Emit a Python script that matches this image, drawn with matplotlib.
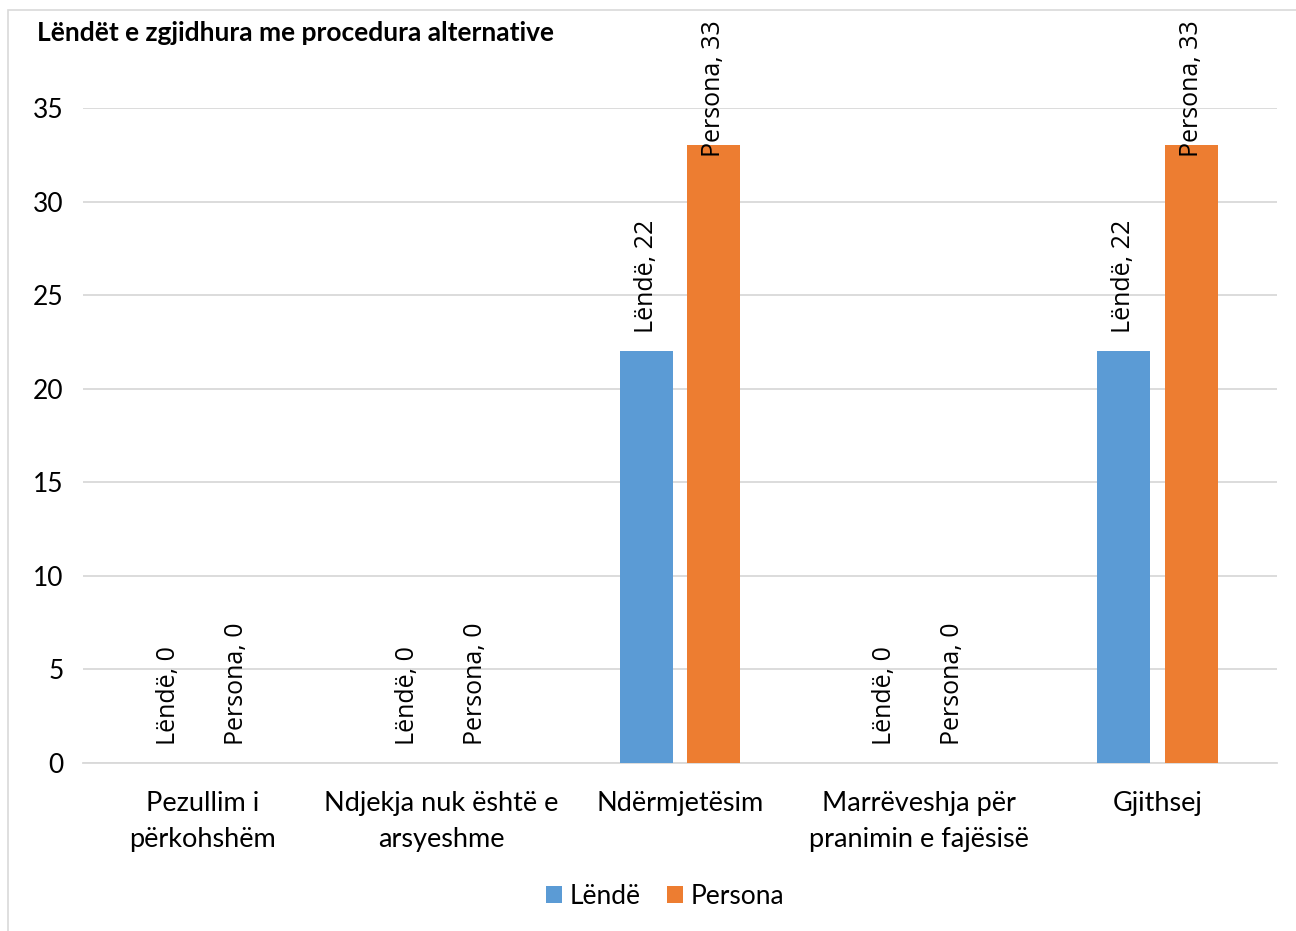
import matplotlib
matplotlib.use("Agg")
import matplotlib.pyplot as plt
import numpy as np
from matplotlib.patches import Rectangle

categories = ["Pezullim i\npërkohshëm", "Ndjekja nuk është e\narsyeshme", "Ndërmjetësim",
              "Marrëveshja për\npranimin e fajësisë", "Gjithsej"]
series_names = ["Lëndë", "Persona"]
lende = [0, 0, 22, 0, 22]
persona = [0, 0, 33, 0, 33]
title = "Lëndët e zgjidhura me procedura alternative"
yticks = [0, 5, 10, 15, 20, 25, 30, 35]

colors = ["#5B9BD5", "#ED7D31"]
W, H = 1296, 931
fig = plt.figure(figsize=(W / 100, H / 100), dpi=100)
fig.patch.set_facecolor("white")
fig.patches.append(Rectangle((8 / W, -0.05), 1.1, 1 - 10 / H + 0.05, transform=fig.transFigure,
                             fill=False, edgecolor="#d9d9d9", linewidth=1.2))

ax = fig.add_axes([83 / W, 1 - 763 / H, (1277 - 83) / W, (763 - 108) / H])
x = np.arange(len(categories))
bw = 0.222
off = 0.142
series = [lende, persona]
for i, (vals, name) in enumerate(zip(series, series_names)):
    pos = x + (-off if i == 0 else off)
    ax.bar(pos, vals, width=bw, color=colors[i], label=name, zorder=3)
    for p, v in zip(pos, vals):
        dy = 18
        if v == 33:
            dy = -12
        ax.annotate(f"{name}, {v}", xy=(p, v), xytext=(0, dy), textcoords="offset pixels",
                    rotation=90, ha="center", va="bottom", fontsize=18,
                    family="Open Sans", color="black", annotation_clip=False, zorder=4)

ax.set_xlim(-0.5, len(categories) - 0.5)
ax.set_ylim(0, 35)
ax.set_yticks(yticks)
ax.set_xticks(x)
ax.set_xticklabels(categories, family="Lato", fontsize=19.5, linespacing=1.55)
ax.tick_params(axis="x", length=0, pad=20)
ax.tick_params(axis="y", length=0, pad=14, labelsize=19)
for lab in ax.get_yticklabels():
    lab.set_family("Lato")
ax.grid(axis="y", color="#d9d9d9", linewidth=1.3, zorder=0)
for s in ["top", "right", "left"]:
    ax.spines[s].set_visible(False)
ax.spines["bottom"].set_color("#d9d9d9")
ax.spines["bottom"].set_linewidth(1.3)

fig.text(37 / W, 1 - 33 / H, title, fontsize=19, fontweight="bold", family="Lato",
         ha="left", va="center")

leg = fig.legend(loc="center", bbox_to_anchor=(665 / W, 1 - 896 / H), ncol=2, frameon=False,
                 prop={"family": "Lato", "size": 19}, handlelength=0.6, handleheight=0.6,
                 handletextpad=0.3, columnspacing=1.0)

fig.savefig("out.png", dpi=100)
